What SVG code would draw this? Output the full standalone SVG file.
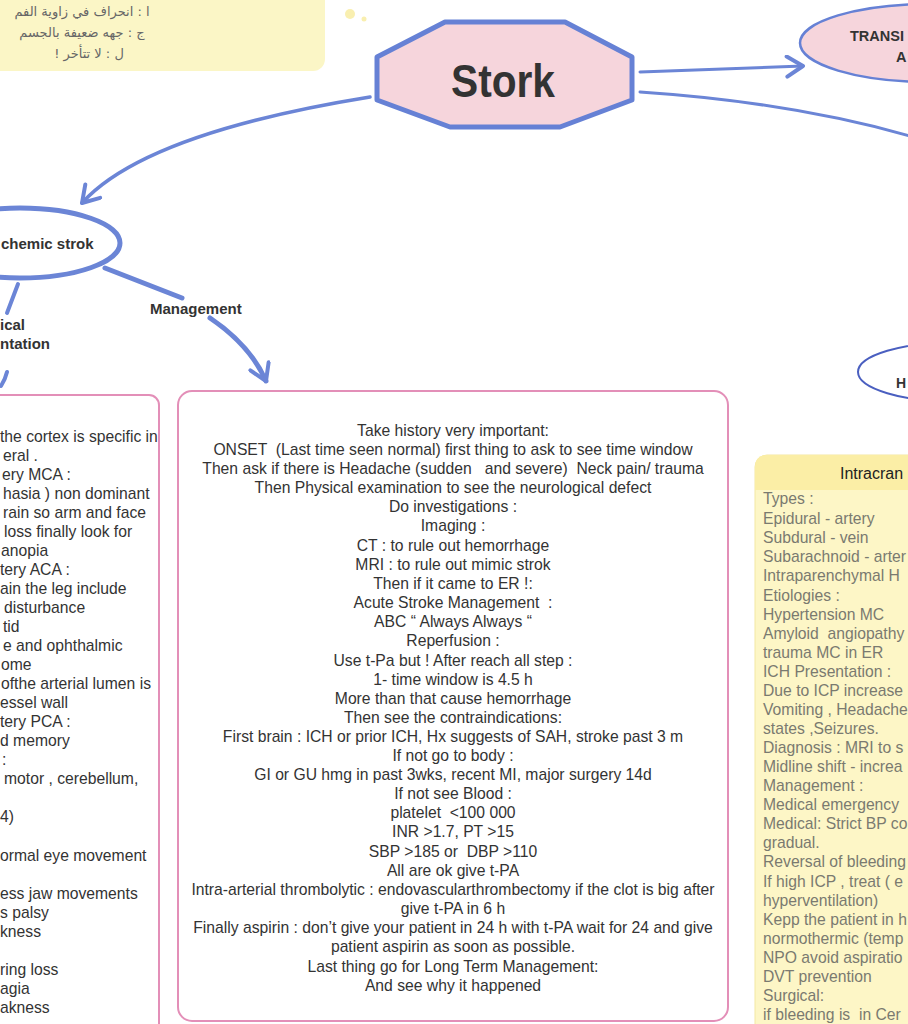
<svg xmlns="http://www.w3.org/2000/svg" width="908" height="1024" viewBox="0 0 908 1024">
<style>
.conn{fill:none;stroke:#6b85d6;stroke-linecap:round;stroke-linejoin:round}
.t{font-family:"Liberation Sans",Arial,sans-serif;font-size:15.7px;fill:#333}
.mid{text-anchor:middle}
.b{font-weight:bold}
.ry{font-family:"Liberation Sans",Arial,sans-serif;font-size:15.7px;fill:#7a7a70}
.ar{font-family:"DejaVu Sans","Noto Sans",sans-serif;font-size:13px;fill:#666;text-anchor:middle}
.box{fill:#fff;stroke:#e38fb8;stroke-width:2}
</style>
<defs>
<marker id="chev" markerUnits="userSpaceOnUse" viewBox="0 0 24 24" refX="21" refY="12" markerWidth="24" markerHeight="24" orient="auto">
<path d="M5,2 L21,12 L5,22" fill="none" stroke="#6b85d6" stroke-width="4" stroke-linecap="round" stroke-linejoin="round"/>
</marker>
</defs>
<rect width="908" height="1024" fill="#fff"/>

<g id="note">
<rect x="-20" y="-20" width="345" height="91" rx="12" fill="#fbf6c6"/>
<circle cx="350" cy="14" r="5" fill="#f9efb0"/>
<circle cx="364" cy="19" r="2.5" fill="#f9efb0"/>
<text class="ar" direction="rtl" x="82" y="16">ا : انحراف في زاوية الفم</text>
<text class="ar" direction="rtl" x="82" y="37">ج : جهه ضعيفة بالجسم</text>
<text class="ar" direction="rtl" x="89" y="58">ل : لا تتأخر !</text>
</g>

<g id="connectors">
<path class="conn" stroke-width="3" d="M640,72 L803,66" marker-end="url(#chev)"/>
<path class="conn" stroke-width="3" d="M640,92 Q790,102 910,136"/>
<path class="conn" stroke-width="3.5" d="M370,97 C240,118 130,150 82,203" marker-end="url(#chev)"/>
<path class="conn" stroke-width="4" d="M18,284 L7,313"/>
<path class="conn" stroke-width="4" d="M7,372 Q5,380 1,386"/>
<path class="conn" stroke-width="5" d="M105,268 L182,298"/>
<path class="conn" stroke-width="5" d="M210,318 Q250,345 266,381" marker-end="url(#chev)"/>
</g>

<g id="stork">
<polygon points="445,22 565,22 632,57 632,100 560,127 450,127 377,100 377,57" fill="#f6d5dc" stroke="#6681d5" stroke-width="5" stroke-linejoin="round"/>
<text x="503" y="97" text-anchor="middle" font-family="'Liberation Sans',Arial,sans-serif" font-weight="bold" font-size="46" fill="#333" textLength="104" lengthAdjust="spacingAndGlyphs">Stork</text>
</g>

<g id="tia">
<ellipse cx="930" cy="43" rx="130" ry="39" fill="#f6d5dc" stroke="#6681d5" stroke-width="2.5"/>
<text class="t b" x="850" y="41" style="font-size:14.5px">TRANSI</text>
<text class="t b" x="896" y="62" style="font-size:14.5px">A</text>
</g>

<g id="hemorrhagic">
<ellipse cx="958" cy="372" rx="100" ry="30" fill="#fff" stroke="#4a5fc0" stroke-width="2"/>
<text class="t b" x="896" y="388" style="font-size:14px">H</text>
</g>

<g id="ischemic">
<ellipse cx="20" cy="243" rx="100" ry="35" fill="#fff" stroke="#6b85d6" stroke-width="5"/>
<text class="t b" x="1" y="249" style="font-size:15px">chemic strok</text>
</g>

<g id="clinical-label">
<text class="t b" x="0" y="330" style="font-size:15px">ical</text>
<text class="t b" x="0" y="349" style="font-size:15px">ntation</text>
</g>

<g id="management-label">
<text class="t b" x="150" y="314" style="font-size:15px">Management</text>
</g>

<g id="clinical-box">
<rect class="box" x="-20" y="395" width="179" height="650" rx="10"/>
<text class="t" x="0" y="442">the cortex is specific in</text>
<text class="t" x="3" y="461">eral .</text>
<text class="t" x="2" y="480">ery MCA :</text>
<text class="t" x="3" y="499">hasia ) non dominant</text>
<text class="t" x="3" y="518">rain so arm and face</text>
<text class="t" x="4" y="537">loss finally look for</text>
<text class="t" x="1" y="556">anopia</text>
<text class="t" x="0" y="575">tery ACA :</text>
<text class="t" x="0" y="594">ain the leg include</text>
<text class="t" x="4" y="613">disturbance</text>
<text class="t" x="3" y="632">tid</text>
<text class="t" x="3" y="651">e and ophthalmic</text>
<text class="t" x="1" y="670">ome</text>
<text class="t" x="1" y="689">ofthe arterial lumen is</text>
<text class="t" x="0" y="708">essel wall</text>
<text class="t" x="0" y="727">tery PCA :</text>
<text class="t" x="0" y="746">d memory</text>
<text class="t" x="2" y="765">:</text>
<text class="t" x="4" y="784">motor , cerebellum,</text>
<text class="t" x="0" y="822">4)</text>
<text class="t" x="0" y="861">ormal eye movement</text>
<text class="t" x="0" y="899">ess jaw movements</text>
<text class="t" x="0" y="918">s palsy</text>
<text class="t" x="0" y="937">kness</text>
<text class="t" x="0" y="975">ring loss</text>
<text class="t" x="0" y="994">agia</text>
<text class="t" x="0" y="1013">akness</text>
</g>

<g id="management-box">
<rect class="box" x="178" y="391" width="550" height="630" rx="14"/>
<text class="t mid" x="453" y="436">Take history very important:</text>
<text class="t mid" x="453" y="455" xml:space="preserve">ONSET  (Last time seen normal) first thing to ask to see time window</text>
<text class="t mid" x="453" y="474" xml:space="preserve">Then ask if there is Headache (sudden   and severe)  Neck pain/ trauma</text>
<text class="t mid" x="453" y="493">Then Physical examination to see the neurological defect</text>
<text class="t mid" x="453" y="512">Do investigations :</text>
<text class="t mid" x="453" y="531">Imaging :</text>
<text class="t mid" x="453" y="551">CT : to rule out hemorrhage</text>
<text class="t mid" x="453" y="570">MRI : to rule out mimic strok</text>
<text class="t mid" x="453" y="589">Then if it came to ER !:</text>
<text class="t mid" x="453" y="608" xml:space="preserve">Acute Stroke Management  :</text>
<text class="t mid" x="453" y="627">ABC “ Always Always “</text>
<text class="t mid" x="453" y="646">Reperfusion :</text>
<text class="t mid" x="453" y="666">Use t-Pa but ! After reach all step :</text>
<text class="t mid" x="453" y="685">1- time window is 4.5 h</text>
<text class="t mid" x="453" y="704">More than that cause hemorrhage</text>
<text class="t mid" x="453" y="723">Then see the contraindications:</text>
<text class="t mid" x="453" y="742">First brain : ICH or prior ICH, Hx suggests of SAH, stroke past 3 m</text>
<text class="t mid" x="453" y="761">If not go to body :</text>
<text class="t mid" x="453" y="780">GI or GU hmg in past 3wks, recent MI, major surgery 14d</text>
<text class="t mid" x="453" y="799">If not see Blood :</text>
<text class="t mid" x="453" y="818" xml:space="preserve">platelet  &lt;100 000</text>
<text class="t mid" x="453" y="837">INR &gt;1.7, PT &gt;15</text>
<text class="t mid" x="453" y="857" xml:space="preserve">SBP &gt;185 or  DBP &gt;110</text>
<text class="t mid" x="453" y="876">All are ok give t-PA</text>
<text class="t mid" x="453" y="895">Intra-arterial thrombolytic : endovascularthrombectomy if the clot is big after</text>
<text class="t mid" x="453" y="914">give t-PA in 6 h</text>
<text class="t mid" x="453" y="933">Finally aspirin : don’t give your patient in 24 h with t-PA wait for 24 and give</text>
<text class="t mid" x="453" y="952">patient aspirin as soon as possible.</text>
<text class="t mid" x="453" y="972">Last thing go for Long Term Management:</text>
<text class="t mid" x="453" y="991">And see why it happened</text>
</g>

<g id="ich-box">
<rect x="755" y="455" width="200" height="600" rx="12" fill="#fdf6c6" stroke="#f3e7a2" stroke-width="1"/>
<path d="M755,490 L755,467 Q755,455 767,455 L910,455 L910,490 Z" fill="#fbeea6"/>
<text x="840" y="479" font-family="'Liberation Sans',Arial,sans-serif" font-size="16" fill="#222">Intracran</text>
<text class="ry" x="763" y="504">Types :</text>
<text class="ry" x="763" y="524">Epidural - artery</text>
<text class="ry" x="763" y="543">Subdural - vein</text>
<text class="ry" x="763" y="562">Subarachnoid - arter</text>
<text class="ry" x="763" y="581">Intraparenchymal H</text>
<text class="ry" x="763" y="601">Etiologies :</text>
<text class="ry" x="763" y="620">Hypertension MC</text>
<text class="ry" x="763" y="639" xml:space="preserve">Amyloid  angiopathy</text>
<text class="ry" x="763" y="658">trauma MC in ER</text>
<text class="ry" x="763" y="677">ICH Presentation :</text>
<text class="ry" x="763" y="696">Due to ICP increase</text>
<text class="ry" x="763" y="715">Vomiting , Headache</text>
<text class="ry" x="763" y="734">states ,Seizures.</text>
<text class="ry" x="763" y="753">Diagnosis : MRI to s</text>
<text class="ry" x="763" y="772">Midline shift - increa</text>
<text class="ry" x="763" y="791">Management :</text>
<text class="ry" x="763" y="810">Medical emergency</text>
<text class="ry" x="763" y="829">Medical: Strict BP co</text>
<text class="ry" x="763" y="848">gradual.</text>
<text class="ry" x="763" y="867">Reversal of bleeding</text>
<text class="ry" x="763" y="887">If high ICP , treat ( e</text>
<text class="ry" x="763" y="906">hyperventilation)</text>
<text class="ry" x="763" y="925">Kepp the patient in h</text>
<text class="ry" x="763" y="944">normothermic (temp</text>
<text class="ry" x="763" y="963">NPO avoid aspiratio</text>
<text class="ry" x="763" y="982">DVT prevention</text>
<text class="ry" x="763" y="1001">Surgical:</text>
<text class="ry" x="763" y="1020" xml:space="preserve">if bleeding is  in Cer</text>
</g>
</svg>
